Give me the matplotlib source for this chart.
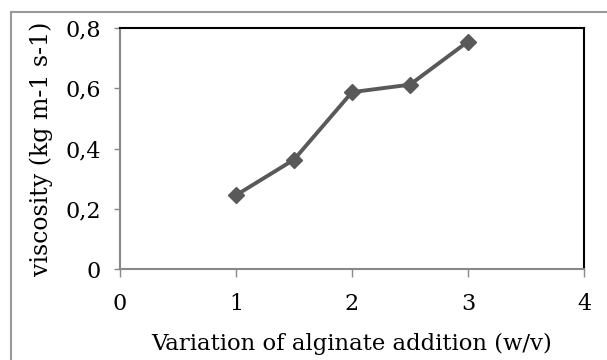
import matplotlib.pyplot as plt
from matplotlib.lines import Line2D

alginate = [1, 1.5, 2, 2.5, 3]
viscosity = [0.245, 0.363, 0.587, 0.612, 0.755]
x_ticks = [0, 1, 2, 3, 4]
y_ticks = [0, 0.2, 0.4, 0.6, 0.8]
y_labels = ['0', '0,2', '0,4', '0,6', '0,8']

plt.rcParams['font.family'] = ['DejaVu Serif']

fig = plt.figure(figsize=(6.07, 3.60), dpi=100)
ax = fig.add_axes([120 / 607, 1 - 269 / 360, (584 - 120) / 607, (269 - 28) / 360])

ax.plot(alginate, viscosity, color='#595959', lw=2.8, marker='D', markersize=8)

ax.set_xlim(0, 4)
ax.set_ylim(0, 0.8)
ax.set_xticks(x_ticks)
ax.set_yticks(y_ticks)
ax.set_yticklabels(y_labels)
ax.tick_params(labelsize=16, width=1, color='#888888', direction='out')
ax.tick_params(axis='x', length=6, pad=11)
ax.tick_params(axis='y', length=4.5, pad=9)

for side in ['left', 'bottom']:
    ax.spines[side].set_color('#888888')
    ax.spines[side].set_linewidth(1.5)
for side in ['top', 'right']:
    ax.spines[side].set_color('black')
    ax.spines[side].set_linewidth(1.5)

ax.set_xlabel('Variation of alginate addition (w/v)', fontsize=16.4, labelpad=13)
ax.set_ylabel('viscosity (kg m-1 s-1)', fontsize=17, labelpad=9)

# outer chart frame (only top and left visible)
fig.add_artist(Line2D([11 / 607, 1], [1 - 12 / 360, 1 - 12 / 360],
                      transform=fig.transFigure, color='#999999', lw=1.5))
fig.add_artist(Line2D([11 / 607, 11 / 607], [0, 1 - 12 / 360],
                      transform=fig.transFigure, color='#999999', lw=1.5))

fig.savefig('out.png', dpi=100)
